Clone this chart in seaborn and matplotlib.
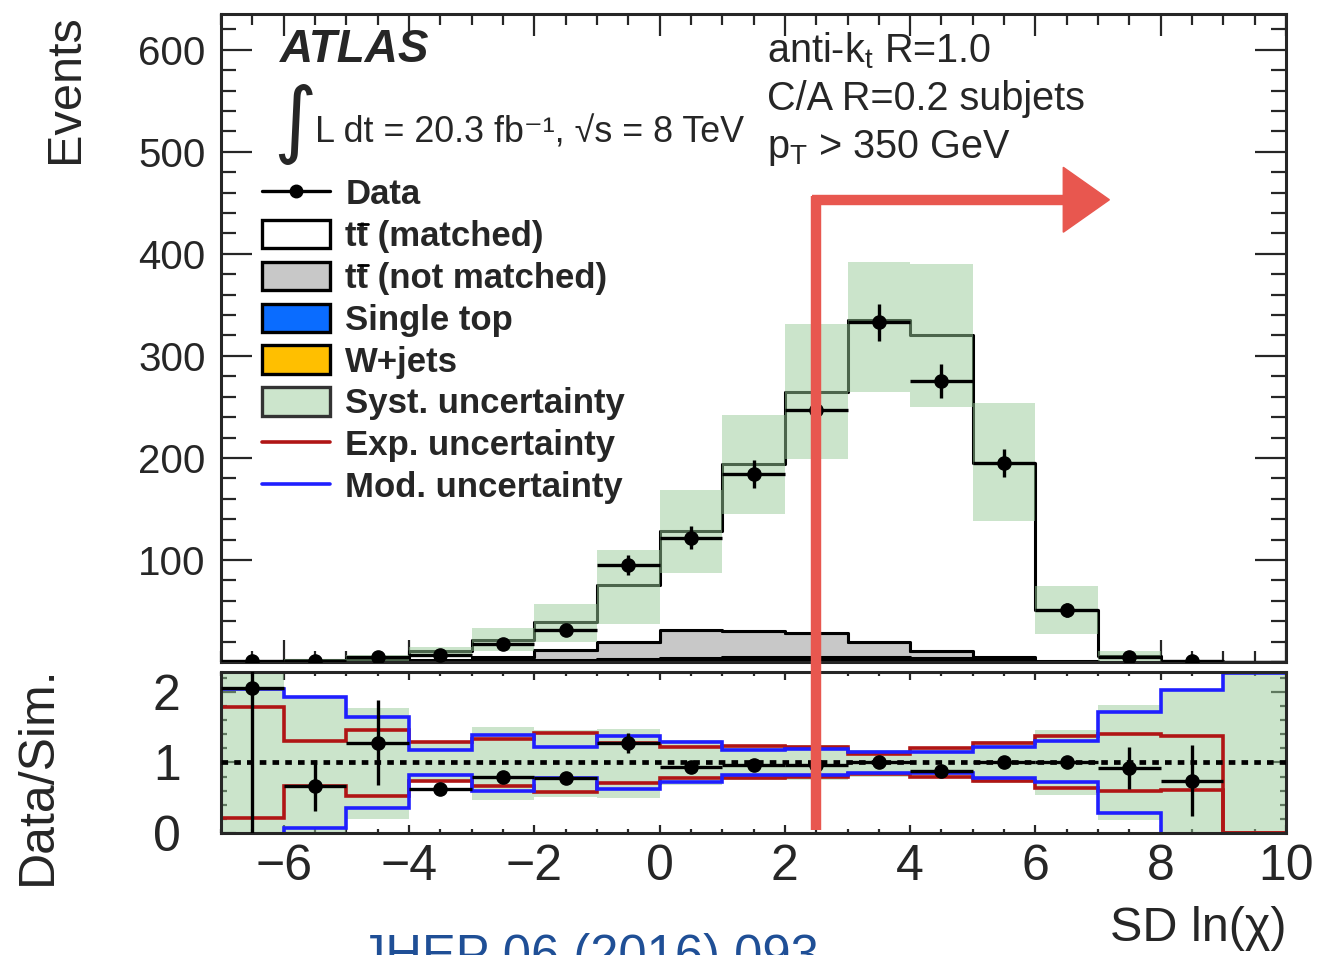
import numpy as np
import pandas as pd
import matplotlib.pyplot as plt
import seaborn as sns
from matplotlib.lines import Line2D
from matplotlib.patches import Patch, Polygon
from matplotlib.ticker import MultipleLocator

# binning in SD ln(chi)
edges = np.arange(-7, 11, 1)
centers = edges[:-1] + 0.5

# upper panel: events per bin
data = [1, 1, 5, 7, 18, 31, 95, 122, 184, 247, 333, 275, 195, 51, 5, 1, np.nan]
data_err = [1, 1, 2.2, 2.6, 4.2, 5.6, 9.7, 11, 13.6, 15.7, 18.2, 16.6, 14, 7.1, 2.2, 1, 0]
tt_matched = [0.5, 1.5, 3, 9, 17, 27, 55, 97, 164, 237, 315, 309, 190, 50, 5.7, 0.6, 0]
tt_unmatched = [0, 0, 0.5, 1, 3.5, 10, 17, 27, 25.5, 23, 15.5, 7, 2.5, 0.3, 0.3, 0, 0]
single_top = [0, 0, 0.2, 0.5, 0.7, 1, 1.5, 2, 2.5, 3, 3, 3, 2, 0.5, 0, 0, 0]
wjets = [0, 0, 0.3, 0.5, 0.8, 1, 1.5, 2, 2, 2, 1.5, 1, 0.5, 0.2, 0, 0, 0]

# lower panel: relative uncertainties and data/sim
syst_hi = [2.5, 1.93, 1.77, 1.30, 1.50, 1.46, 1.47, 1.32, 1.25, 1.25, 1.17, 1.22, 1.30, 1.46, 1.82, 2.03, 2.5]
syst_lo = [0, 0, 0.20, 0.72, 0.47, 0.51, 0.50, 0.68, 0.75, 0.75, 0.79, 0.78, 0.71, 0.54, 0.19, 0, 0]
exp_hi = [1.79, 1.30, 1.46, 1.29, 1.33, 1.42, 1.28, 1.22, 1.23, 1.22, 1.12, 1.20, 1.28, 1.38, 1.40, 1.38, 0]
exp_lo = [0.21, 0.66, 0.53, 0.73, 0.66, 0.58, 0.71, 0.78, 0.78, 0.79, 0.83, 0.80, 0.73, 0.64, 0.60, 0.61, 0]
mod_hi = [2.04, 1.93, 1.65, 1.18, 1.39, 1.22, 1.38, 1.29, 1.18, 1.19, 1.15, 1.15, 1.22, 1.31, 1.72, 2.03, 2.26]
mod_lo = [-0.1, 0.07, 0.36, 0.82, 0.60, 0.78, 0.63, 0.72, 0.82, 0.82, 0.85, 0.85, 0.78, 0.72, 0.28, -0.1, -0.1]
ratio = [2.06, 0.67, 1.28, 0.62, 0.79, 0.78, 1.28, 0.94, 0.96, 0.96, 1.0, 0.88, 1.0, 1.01, 0.92, 0.74, np.nan]
ratio_err = [2.1, 0.36, 0.6, 0.04, 0.07, 0.06, 0.14, 0.05, 0.05, 0.05, 0.05, 0.05, 0.06, 0.05, 0.3, 0.5, 0]

comp_names = ['tt matched', 'tt not matched', 'Single top', 'W+jets']
comp_colors = {'tt matched': 'white', 'tt not matched': '#c8c8c8',
               'Single top': '#0a6cff', 'W+jets': '#ffbf00'}
GREEN = '#99cb99'
RED = '#b01515'
BLUE = '#1f1fff'

sns.set_style('ticks')
plt.rcParams['font.family'] = ['Liberation Sans', 'DejaVu Sans']
plt.rcParams['mathtext.fontset'] = 'custom'
plt.rcParams['mathtext.rm'] = 'Liberation Sans'
plt.rcParams['mathtext.it'] = 'Liberation Sans:italic'
plt.rcParams['mathtext.bf'] = 'Liberation Sans:bold'

fig = plt.figure(figsize=(13.37, 9.55), dpi=100)
ax1 = fig.add_axes([0.1653, 0.3068, 0.7966, 0.6785])
ax2 = fig.add_axes([0.1653, 0.1277, 0.7966, 0.1686])

# stacked simulation
stack = pd.DataFrame({
    'x': np.tile(centers, 4),
    'w': np.concatenate([tt_matched, tt_unmatched, single_top, wjets]),
    'comp': np.repeat(comp_names, len(centers)),
})
sns.histplot(data=stack, x='x', weights='w', hue='comp', hue_order=comp_names,
             binwidth=1, binrange=(-7, 10), element='step', multiple='stack',
             palette=comp_colors, edgecolor='black', linewidth=2.2, alpha=1,
             legend=False, ax=ax1)

total = np.sum([tt_matched, tt_unmatched, single_top, wjets], axis=0)
band_hi = total * np.array(syst_hi)
band_lo = total * np.array(syst_lo)
ax1.fill_between(edges, np.append(band_lo, band_lo[-1]), np.append(band_hi, band_hi[-1]),
                 step='post', color=GREEN, alpha=0.5, lw=0)
ax1.errorbar(centers, data, yerr=data_err, xerr=0.5, fmt='o', color='black',
             ms=9.5, elinewidth=2.4, capsize=0, zorder=5)

ax1.set_xlim(-7, 10)
ax1.set_ylim(0, 635)
ax1.set_yticks(range(100, 700, 100))
ax1.yaxis.set_minor_locator(MultipleLocator(20))
ax1.xaxis.set_major_locator(MultipleLocator(2))
ax1.xaxis.set_minor_locator(MultipleLocator(0.5))
ax1.tick_params(which='both', direction='in', top=True, right=True, width=1.6,
                labelbottom=False, labelsize=29)
ax1.tick_params(axis='y', which='major', length=22, pad=11)
ax1.tick_params(axis='y', which='minor', length=11)
ax1.tick_params(axis='x', which='major', length=16)
ax1.tick_params(axis='x', which='minor', length=8)
ax1.set_xlabel('')
ax1.set_ylabel('Events', fontsize=35, loc='top')
ax1.yaxis.set_label_coords(-0.125, 1.0)

# ratio panel
ax2.fill_between(edges, np.append(syst_lo, syst_lo[-1]), np.append(syst_hi, syst_hi[-1]),
                 step='post', color=GREEN, alpha=0.5, lw=0)
ax2.stairs(exp_hi, edges, baseline=None, color=RED, lw=2.6)
ax2.stairs(exp_lo, edges, baseline=None, color=RED, lw=2.6)
ax2.stairs(mod_hi, edges, baseline=None, color=BLUE, lw=2.6)
ax2.stairs(mod_lo, edges, baseline=None, color=BLUE, lw=2.6)
ax2.axhline(1, color='black', ls=(0, (1.4, 1.3)), lw=3.4, zorder=4)
ax2.errorbar(centers, ratio, yerr=ratio_err, xerr=0.5, fmt='o', color='black',
             ms=9.5, elinewidth=2.4, capsize=0, zorder=5)

ax2.set_xlim(-7, 10)
ax2.set_ylim(0, 2.28)
ax2.set_yticks([0, 1, 2])
ax2.yaxis.set_minor_locator(MultipleLocator(0.2))
ax2.xaxis.set_major_locator(MultipleLocator(2))
ax2.xaxis.set_minor_locator(MultipleLocator(0.5))
ax2.tick_params(which='both', direction='in', top=True, right=True, width=1.6, labelsize=36)
ax2.tick_params(axis='y', which='major', length=11, pad=29)
ax2.tick_params(axis='y', which='minor', length=4)
ax2.tick_params(axis='x', which='major', length=6, pad=8)
ax2.tick_params(axis='x', which='minor', length=3)
ax2.set_ylabel('Data/Sim.', fontsize=36, loc='top')
ax2.yaxis.set_label_coords(-0.15, 1.04)
ax2.set_xlabel('SD ln(\u03c7)', fontsize=35, loc='right')
ax2.xaxis.set_label_coords(1.0, -0.45)

for ax in (ax1, ax2):
    for sp in ax.spines.values():
        sp.set_linewidth(2.2)
        sp.set_visible(True)

# texts
ax1.text(0.0554, 0.926, 'ATLAS', transform=ax1.transAxes, fontsize=33,
         fontweight='bold', fontstyle='italic', va='baseline')
ax1.text(0.049, 0.795, '\u222b', transform=ax1.transAxes, fontsize=60,
         family=['DejaVu Sans'], va='baseline')
ax1.text(0.088, 0.801, 'L dt = 20.3 fb\u207b\u00b9, \u221as = 8 TeV',
         transform=ax1.transAxes, fontsize=25.8, va='baseline')
ax1.text(0.5127, 0.926, r'anti-k$_{\rm t}$ R=1.0', transform=ax1.transAxes,
         fontsize=28.5, va='baseline')
ax1.text(0.5127, 0.852, 'C/A R=0.2 subjets', transform=ax1.transAxes,
         fontsize=28.5, va='baseline')
ax1.text(0.5127, 0.778, r'p$_{\rm T}$ > 350 GeV', transform=ax1.transAxes,
         fontsize=28.5, va='baseline')

handles = [
    Line2D([], [], color='black', marker='o', ms=9, lw=2.4),
    Patch(facecolor='white', edgecolor='black', lw=2.4),
    Patch(facecolor='#c8c8c8', edgecolor='black', lw=2.4),
    Patch(facecolor='#0a6cff', edgecolor='black', lw=2.4),
    Patch(facecolor='#ffbf00', edgecolor='black', lw=2.4),
    Patch(facecolor='#cce5cc', edgecolor='#333333', lw=2.4),
    Line2D([], [], color=RED, lw=2.6),
    Line2D([], [], color=BLUE, lw=2.6),
]
labels = ['Data', 'tt (matched)', 'tt (not matched)',
          'Single top', 'W+jets', 'Syst. uncertainty', 'Exp. uncertainty', 'Mod. uncertainty']
leg = ax1.legend(handles, labels, loc='upper left', bbox_to_anchor=(0.0385, 0.747),
                 frameon=False, prop={'weight': 'bold', 'size': 25}, handlelength=1.97,
                 handleheight=0.88, handletextpad=0.43, labelspacing=0.25, borderpad=0,
                 borderaxespad=0)

# bar over the second t of "tt" (anti-top)
fig.canvas.draw()
renderer = fig.canvas.get_renderer()
inv = fig.transFigure.inverted()
for txt in leg.get_texts()[1:3]:
    bb = txt.get_window_extent(renderer)
    probe = fig.text(0, 0, 't', fontproperties=txt.get_fontproperties())
    w_t = probe.get_window_extent(renderer).width
    probe.remove()
    xa = bb.x0 + w_t + 1.5
    xb = bb.x0 + 2 * w_t - 0.5
    yb = bb.y1 - 3.5
    (fa, fy), (fb, _) = inv.transform([(xa, yb), (xb, yb)])
    fig.add_artist(Line2D([fa, fb], [fy, fy], color='black', lw=2.0,
                          transform=fig.transFigure))

# hand-drawn red marker at SD ln(chi) = 2.5
to_fig = lambda x, y: fig.transFigure.inverted().transform(ax1.transData.transform((x, y)))
x0, ytop = to_fig(2.5, 453)
x1, _ = to_fig(6.7, 453)
xtip, _ = to_fig(7.18, 453)
red_mark = '#e8574f'
fig.add_artist(Line2D([x0, x0], [ytop + 0.004, 1 - 830 / 955], color=red_mark, lw=7.5,
                      transform=fig.transFigure, solid_capstyle='butt'))
fig.add_artist(Line2D([x0 - 0.003, x1], [ytop, ytop], color=red_mark, lw=7.5,
                      transform=fig.transFigure, solid_capstyle='butt'))
fig.add_artist(Polygon([[x1 - 0.012, ytop + 0.034], [xtip, ytop], [x1 - 0.012, ytop - 0.034]],
                       closed=True, color=red_mark, transform=fig.transFigure))

fig.text(0.269, 1 - 933 / 955, 'JHEP 06 (2016) 093', fontsize=36.5, color='#1f4f96',
         va='top', ha='left')

fig.savefig('out.png', dpi=100)
